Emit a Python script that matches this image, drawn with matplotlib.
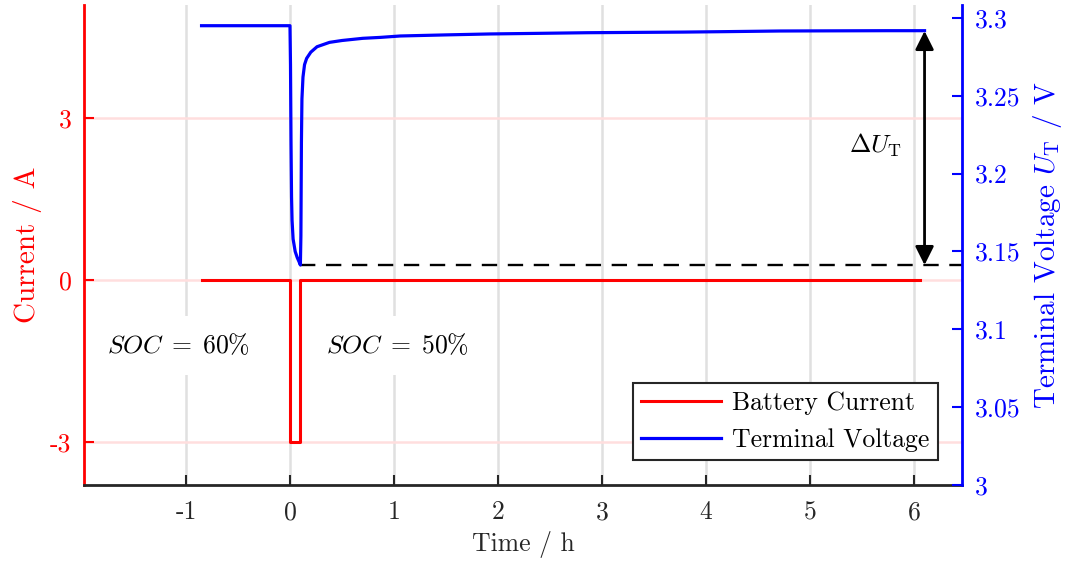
import matplotlib
matplotlib.use("Agg")
import matplotlib.pyplot as plt

plt.rcParams['font.family'] = 'serif'
plt.rcParams['font.serif'] = ['cmr10', 'DejaVu Serif']
plt.rcParams['mathtext.fontset'] = 'cm'
plt.rcParams['axes.unicode_minus'] = False
plt.rcParams['axes.formatter.use_mathtext'] = True

# ---- data ----
t_current = [-0.85, 0.0, 0.0, 0.1, 0.1, 6.06]
current = [0, 0, -3, -3, 0, 0]

t_voltage = [-0.85, 0.0, 0.005, 0.01, 0.015, 0.02, 0.03, 0.05, 0.07, 0.09, 0.1,
             0.105, 0.11, 0.115, 0.125, 0.14, 0.16, 0.2, 0.26, 0.38, 0.5, 0.7,
             0.87, 1.06, 1.5, 1.92, 2.4, 2.86, 3.3, 3.78, 4.2, 4.71, 5.2, 5.74, 6.1]
voltage = [3.295, 3.295, 3.27, 3.22, 3.185, 3.17, 3.158, 3.150, 3.146, 3.143, 3.1413,
           3.16, 3.22, 3.248, 3.262, 3.270, 3.274, 3.278, 3.2815, 3.2843, 3.2855, 3.2869,
           3.2875, 3.2884, 3.2891, 3.2897, 3.2901, 3.2905, 3.2907, 3.2909, 3.2912, 3.2916,
           3.2917, 3.2918, 3.2918]

v_min = 3.1413
v_end = 3.2916
t_arrow = 6.1

x_ticks = [-1, 0, 1, 2, 3, 4, 5, 6]
x_labels = ['-1', '0', '1', '2', '3', '4', '5', '6']
i_ticks = [-3, 0, 3]
i_labels = ['-3', '0', '3']
v_ticks = [3.0, 3.05, 3.1, 3.15, 3.2, 3.25, 3.3]
v_labels = ['3', '3.05', '3.1', '3.15', '3.2', '3.25', '3.3']

RED = '#ff0000'
BLUE = '#0000ff'
DARK = '#262626'
FS = 18.5
LFS = 21

fig = plt.figure(figsize=(10.71, 5.65), dpi=100)
ax = fig.add_axes([84/1071, 1-485/565, (962-84)/1071, (485-5)/565])
ax2 = ax.twinx()

ax.set_xlim(-1.98, 6.46)
ax.set_ylim(-3.8, 5.09)
ax2.set_ylim(3.0, 3.3083)

# grids
for xv in x_ticks:
    ax.axvline(xv, color='#e0e0e0', lw=1.8, zorder=0)
for yv in i_ticks:
    ax.axhline(yv, color='#ffdede', lw=1.8, zorder=0)

lc, = ax.plot(t_current, current, color=RED, lw=2.2, zorder=3)
lv, = ax2.plot(t_voltage, voltage, color=BLUE, lw=2.3, zorder=3)
ax2.plot([0.1, 6.46], [v_min, v_min], color='black', lw=1.7, ls=(0, (6.5, 4.5)), zorder=2)

ax2.annotate('', xy=(t_arrow, v_end), xytext=(t_arrow, v_min),
             arrowprops=dict(arrowstyle='<|-|>', color='black', lw=2,
                             mutation_scale=28, shrinkA=0, shrinkB=0))
ax.text(5.37, 2.5, r'$\Delta U_\mathrm{T}$', fontsize=FS, ha='left', va='center')

bbox = dict(facecolor='white', edgecolor='none', pad=12)
ax.text(-1.76, -1.22, r'$SOC\;=\;60\%$', fontsize=FS, ha='left', va='center', bbox=bbox, zorder=1)
ax.text(0.35, -1.22, r'$SOC\;=\;50\%$', fontsize=FS, ha='left', va='center', bbox=bbox, zorder=1)

# ticks / spines
ax.set_xticks(x_ticks)
ax.set_xticklabels(x_labels)
ax.set_yticks(i_ticks)
ax.set_yticklabels(i_labels)
ax2.set_yticks(v_ticks)
ax2.set_yticklabels(v_labels)

ax.tick_params(axis='x', direction='in', length=7, width=1.5, colors=DARK, labelsize=FS, pad=11)
ax.tick_params(axis='y', direction='in', length=7, width=1.5, colors=RED, labelsize=FS, pad=9)
ax2.tick_params(axis='y', direction='in', length=7, width=1.5, colors=BLUE, labelsize=FS, pad=9)

for a in (ax, ax2):
    a.spines['top'].set_visible(False)
ax.spines['right'].set_visible(False)
ax2.spines['left'].set_visible(False)
ax2.spines['bottom'].set_visible(False)
ax.spines['left'].set_color(RED)
ax.spines['left'].set_linewidth(2)
ax2.spines['right'].set_color(BLUE)
ax2.spines['right'].set_linewidth(2)
ax.spines['bottom'].set_color(DARK)
ax.spines['bottom'].set_linewidth(2)

ax.set_xlabel('Time / h', fontsize=FS, color=DARK, labelpad=5)
ax.set_ylabel('Current / A', fontsize=LFS, color=RED, labelpad=6)
ax2.set_ylabel(r'Terminal Voltage $U_\mathrm{T}$ / V', fontsize=LFS, color=BLUE, labelpad=8)

leg = ax2.legend([lc, lv], ['Battery Current', 'Terminal Voltage'], loc='lower right',
                 bbox_to_anchor=(0.9727, 0.052), fontsize=FS, fancybox=False,
                 framealpha=1, edgecolor=DARK, handlelength=3.1, borderpad=0.32,
                 labelspacing=0.5, handletextpad=0.45, borderaxespad=0)
leg.get_frame().set_linewidth(1.5)

fig.savefig('out.png', dpi=100)
